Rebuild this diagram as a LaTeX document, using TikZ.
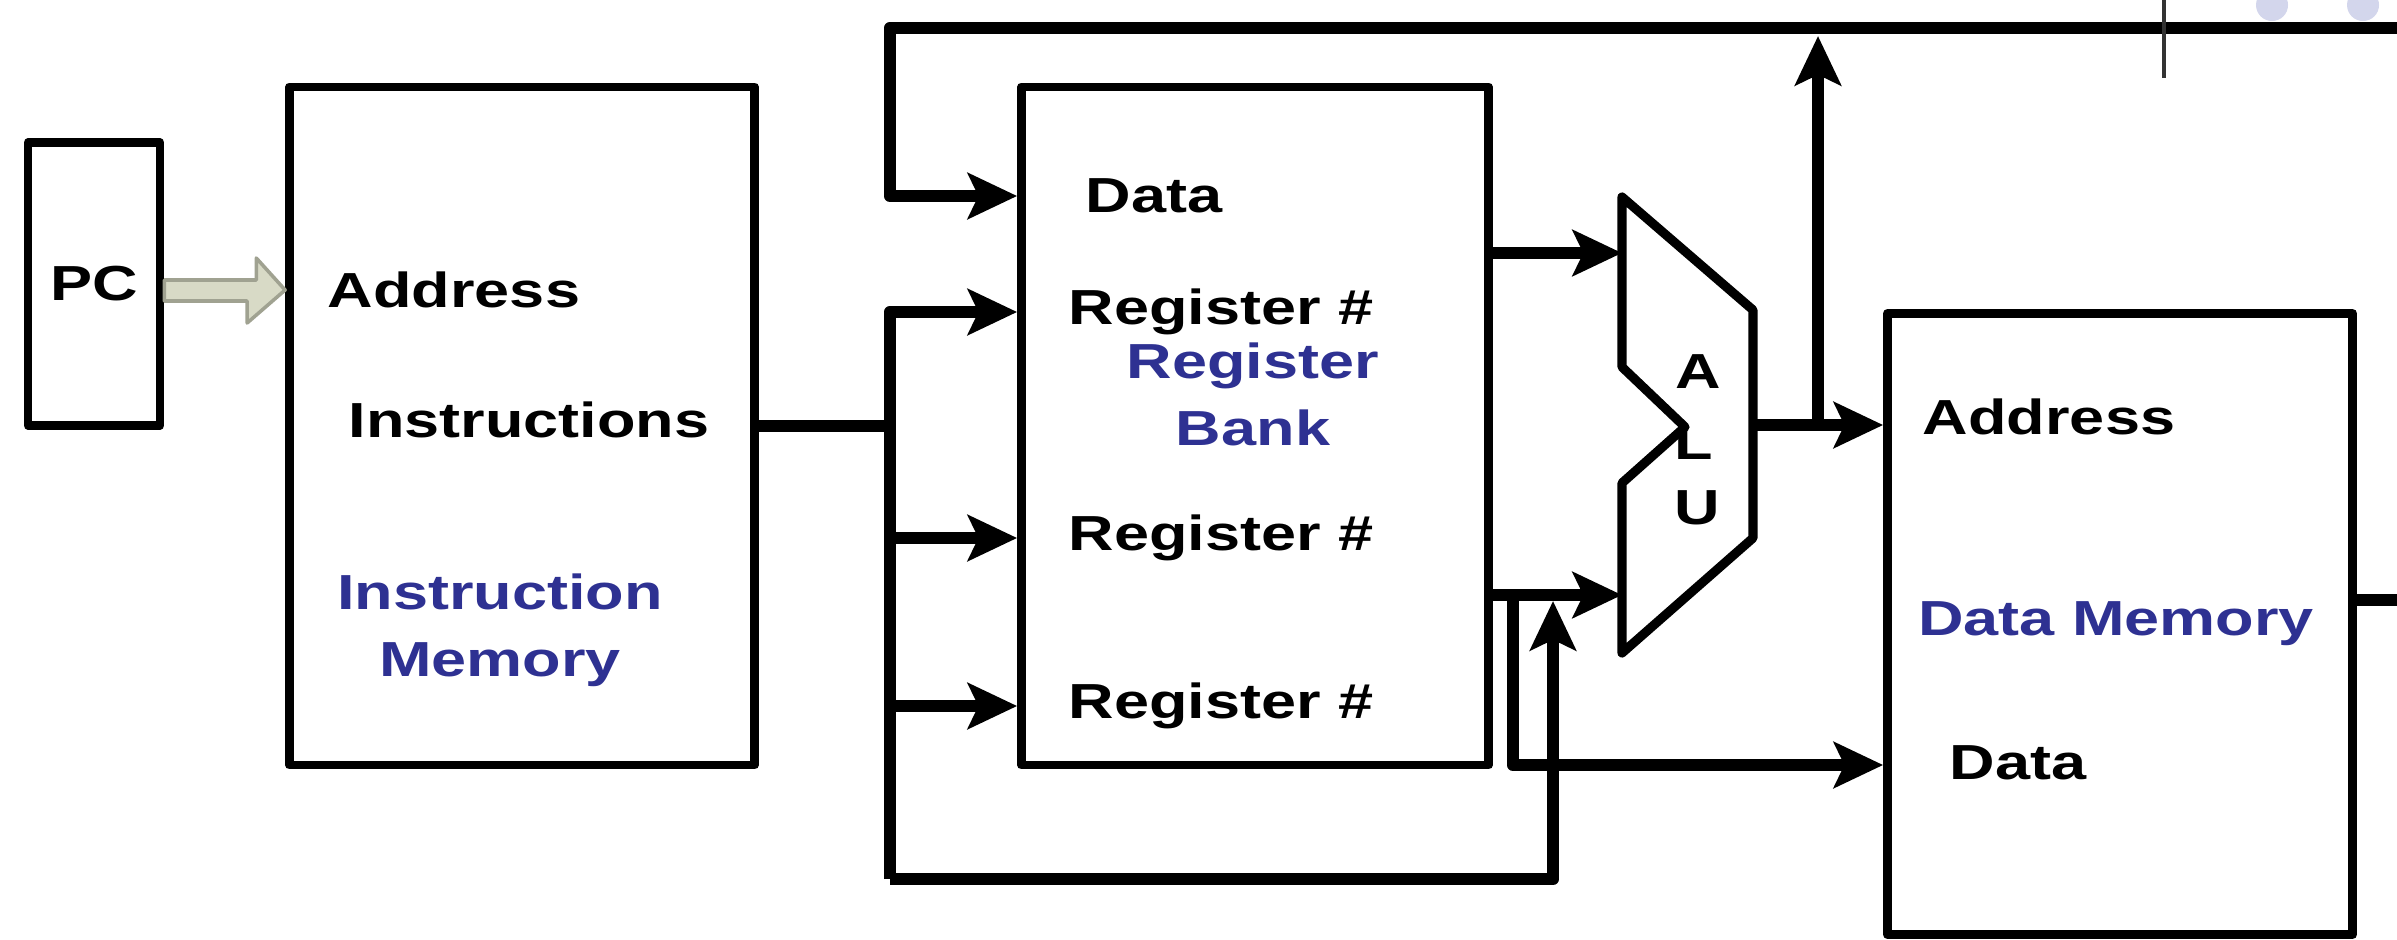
\documentclass[tikz,border=0pt]{standalone}
\usepackage{fontspec}
\setmainfont{Liberation Sans}[FakeStretch=1.28]
\usepackage{xcolor}
\usetikzlibrary{arrows.meta}

\definecolor{unitblue}{RGB}{46,49,146}
\definecolor{pcfill}{RGB}{216,218,198}
\definecolor{pcedge}{RGB}{160,162,145}
\definecolor{dotgrey}{RGB}{211,214,236}

\tikzset{
    block/.style={draw, line width=2.4pt, inner sep=0pt},
    lbl/.style={font=\bfseries\fontsize{14}{19}\selectfont, inner sep=0pt},
    unitname/.style={lbl, text=unitblue, align=center},
    wire/.style={line width=3.5pt},
    sig/.style={wire, -{Stealth[length=14pt,width=13pt,inset=3pt]}}
}

\begin{document}
\begin{tikzpicture}[x=0.01cm, y=-0.01cm, line join=round]
                \useasboundingbox[fill=white] (0,0) rectangle (2397,939);
                % units
                \node[block, lbl, minimum width=1.32cm, minimum height=2.83cm] (pc) at (94,284) {PC};
                \node[block, minimum width=4.65cm, minimum height=6.78cm] (im) at (522,426) {};
                \node[block, minimum width=4.67cm, minimum height=6.78cm] (rb) at (1255,426) {};
                \node[block, minimum width=4.65cm, minimum height=6.21cm] (dm) at (2120,624) {};
                % instruction memory
                \node[lbl] (im-adr) at (454,290) {Address};
                \node[lbl] (im-ins) at (529,420) {Instructions};
                \node[unitname] (im-name) at (500,630) {Instruction\\Memory};
                % register bank
                \node[lbl] (rb-d) at (1154,196) {Data};
                \node[lbl] (rb-r1) at (1221,312) {Register \#};
                \node[unitname] (rb-name) at (1253,394) {Register\\Bank};
                \node[lbl] (rb-r2) at (1221,538) {Register \#};
                \node[lbl] (rb-r3) at (1221,706) {Register \#};
                % data memory
                \node[lbl] (dm-adr) at (2049,417) {Address};
                \node[unitname] (dm-name) at (2116,624) {Data Memory};
                \node[lbl] (dm-d) at (2018,763) {Data};
                % alu
                \draw[line width=2.6pt] (1622,197) -- (1753,310) -- (1753,538) -- (1622,653)
                    -- (1622,483) -- (1685,427) -- (1622,367) -- cycle;
                \coordinate (alu-in1) at (1622,253);
                \coordinate (alu-in2) at (1622,595);
                \coordinate (alu-out) at (1753,425);
                \node[lbl] (alu-a) at (1698,372) {A};
                \node[lbl] (alu-l) at (1694,443) {L};
                \node[lbl] (alu-u) at (1697,508) {U};
                % pc to instruction memory
                \draw[pcedge, fill=pcfill, line width=1pt] (pc.east |- 0,280) -- ++(92,0) -- ++(0,-22)
                    -- (im.west |- 0,290) -- ++(-38,33) -- ++(0,-22) -- (pc.east |- 0,301) -- cycle;
                % instruction bus
                \coordinate (bus-top) at (890,312);
                \coordinate (bus-bot) at (890,879);
                \draw[wire] (im.east) -- (im.east -| bus-top);
                \draw[sig] (bus-bot) -- (bus-top) -- (rb.west |- bus-top);
                \draw[sig] (bus-top |- rb-r2) -- (rb.west |- rb-r2);
                \draw[sig] (bus-top |- rb-r3) -- (rb.west |- rb-r3);
                \coordinate (fwd) at (1553,601);
                \draw[sig] (bus-bot) -- (bus-bot -| fwd) -- (fwd);
                % write back line
                \coordinate (wb) at (2400,28);
                \coordinate (wb-tap) at (1818,36);
                \draw[sig] (wb) -- (wb -| bus-top) -- (bus-top |- rb-d) -- (rb.west |- rb-d);
                % register bank to alu
                \draw[sig] (rb.east |- alu-in1) -- (alu-in1);
                \draw[sig] (rb.east |- alu-in2) -- (alu-in2);
                \coordinate (st) at (1513,765);
                \draw[sig] (st |- alu-in2) -- (st) -- (dm.west |- st);
                % alu result
                \draw[sig] (alu-out) -- (dm.west |- alu-out);
                \draw[sig] (alu-out -| wb-tap) -- (wb-tap);
                % data memory out
                \draw[wire] (dm.east |- 0,600) -- (2400,600);
                % slide marks
                \draw[line width=1.1pt, black!80] (2164,0) -- (2164,78);
                \fill[dotgrey] (2272,5) circle[radius=0.16cm];
                \fill[dotgrey] (2363,5) circle[radius=0.16cm];
            \end{tikzpicture}
\end{document}
